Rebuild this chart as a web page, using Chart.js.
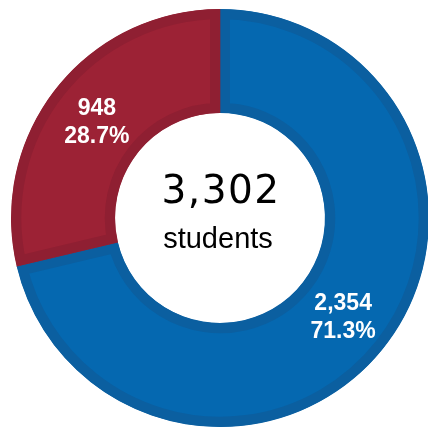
<!DOCTYPE html>
<html>
<head>
<meta charset="utf-8">
<script src="https://cdn.jsdelivr.net/npm/chart.js@4/dist/chart.umd.min.js"></script>
<style>
  html, body { margin: 0; padding: 0; background: #ffffff; overflow: hidden; }
  #wrap { position: absolute; left: 0; top: 0; width: 440px; height: 436px; }
</style>
</head>
<body>
<div id="wrap"><canvas id="c"></canvas></div>
<script>
// ---- data ----
const categories = ["Group A", "Group B"];
const values = [2354, 948];
const sliceColors = ["#0568B0", "#9C2235"];
const sliceBandColors = ["#0B5FA0", "#8F1F32"];
const centerLabel = "students";

const total = values.reduce((a, b) => a + b, 0);

const labelPlugin = {
  id: 'sliceLabels',
  afterDatasetsDraw(chart) {
    const ctx = chart.ctx;
    const meta = chart.getDatasetMeta(0);
    ctx.save();
    ctx.fillStyle = '#ffffff';
    ctx.textAlign = 'center';
    ctx.textBaseline = 'middle';
    ctx.font = 'bold 23px "Liberation Sans", Arial, sans-serif';
    meta.data.forEach((arc, i) => {
      const p = arc.tooltipPosition();
      const v = values[i];
      const pct = (v / total * 100).toFixed(1) + '%';
      ctx.fillText(v.toLocaleString('en-US'), p.x, p.y - 12);
      ctx.fillText(pct, p.x, p.y + 16);
    });
    // center text
    const arc0 = meta.data[0];
    const cx = arc0.x, cy = arc0.y;
    ctx.fillStyle = '#000000';
    ctx.font = 'normal 39px "DejaVu Sans", sans-serif';
    if ('letterSpacing' in ctx) ctx.letterSpacing = '1.5px';
    ctx.fillText(total.toLocaleString('en-US'), cx + 1, cy - 25);
    if ('letterSpacing' in ctx) ctx.letterSpacing = '0px';
    ctx.font = '29px "Liberation Sans", Arial, sans-serif';
    ctx.fillText(centerLabel, cx - 2, cy + 22);
    ctx.restore();
  }
};

new Chart(document.getElementById('c'), {
  type: 'doughnut',
  data: {
    labels: categories,
    datasets: [{
      data: values,
      backgroundColor: sliceColors,
      borderColor: sliceBandColors,
      borderWidth: 10,
      borderAlign: 'inner',
      hoverOffset: 0,
      offset: 0
    }]
  },
  options: {
    responsive: true,
    maintainAspectRatio: false,
    animation: false,
    cutout: '50.2%',
    layout: { padding: 9 },
    plugins: {
      legend: { display: false },
      tooltip: { enabled: false }
    },
    events: []
  },
  plugins: [labelPlugin]
});
</script>
</body>
</html>
